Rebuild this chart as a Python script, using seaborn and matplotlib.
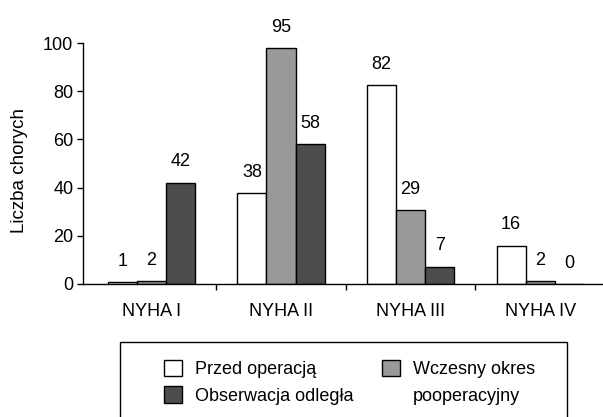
#-- NYHA class distribution before/after surgery --
import matplotlib
matplotlib.use('Agg')
import matplotlib.pyplot as plt
import matplotlib.patches as mpatches
import pandas as pd
import seaborn as sns

sns.set_style('white')
plt.rcParams.update({'font.family': ['Liberation Sans', 'DejaVu Sans'],
                     'font.size': 13,
                     'text.color': 'black',
                     'axes.labelcolor': 'black',
                     'xtick.color': 'black',
                     'ytick.color': 'black'})

#--data--
categories = ['NYHA I', 'NYHA II', 'NYHA III', 'NYHA IV']
series = ['Przed operacją', 'Wczesny okres pooperacyjny', 'Obserwacja odległa']
# bar heights as drawn in the figure
przed = [0.8, 37.7, 82.4, 15.9]
wczesny = [1.2, 97.9, 30.7, 1.2]
odlegla = [42.0, 58.0, 7.2, 0.0]
# printed labels
przed_lbl = [1, 38, 82, 16]
wczesny_lbl = [2, 95, 29, 2]
odlegla_lbl = [42, 58, 7, 0]
colors = {series[0]: '#ffffff', series[1]: '#999999', series[2]: '#4d4d4d'}

df = pd.DataFrame({
    'kat': categories * 3,
    'seria': [s for s in series for _ in categories],
    'liczba': przed + wczesny + odlegla,
})

fig = plt.figure(figsize=(6.03, 4.17), dpi=100)
ax = fig.add_axes([83/603, 1 - 284/417, 1 - 83/603, (284 - 43)/417])

sns.barplot(data=df, x='kat', y='liczba', hue='seria', order=categories,
            hue_order=series, palette=colors, width=0.672, gap=0,
            edgecolor='black', linewidth=1, saturation=1, legend=False, ax=ax)

for cont, lbls in zip(ax.containers, [przed_lbl, wczesny_lbl, odlegla_lbl]):
    ax.bar_label(cont, labels=[str(v) for v in lbls], padding=9, fontsize=13, clip_on=False)

ax.set_xlim(-0.528, 3.485)
ax.set_ylim(0, 100)
ax.set_yticks([0, 20, 40, 60, 80, 100])
ax.set_xlabel('')
ax.set_ylabel('Liczba chorych', fontsize=13.5)
ax.yaxis.set_label_coords(-0.106, 0.47)
ax.set_xticks([0.5, 1.5, 2.5], minor=True)
ax.tick_params(axis='x', which='major', length=0, pad=14, labelsize=13)
ax.tick_params(axis='x', which='minor', length=4, width=1, direction='out', bottom=True)
ax.tick_params(axis='y', length=4, width=1, direction='out', left=True, labelsize=13, pad=3)
for s in ['top', 'right']:
    ax.spines[s].set_visible(False)
for s in ['left', 'bottom']:
    ax.spines[s].set_color('black')
    ax.spines[s].set_linewidth(1)

#--legend--
handles = [mpatches.Patch(facecolor=colors[series[0]], edgecolor='black', linewidth=1),
           mpatches.Patch(facecolor=colors[series[2]], edgecolor='black', linewidth=1),
           mpatches.Patch(facecolor=colors[series[1]], edgecolor='black', linewidth=1),
           mpatches.Patch(facecolor='none', edgecolor='none')]
labels = ['Przed operacją', 'Obserwacja odległa', 'Wczesny okres', 'pooperacyjny']
fig.legend(handles, labels, ncol=2, loc='upper left', bbox_to_anchor=(155/603, 1 - 351/417),
           frameon=False, borderpad=0, handlelength=1.0, handleheight=1.0,
           handletextpad=0.7, labelspacing=0.45, columnspacing=1.6, fontsize=13)
fig.patches.append(mpatches.Rectangle((120/603, -0.1), 447/603, 0.1 + 1 - 342/417,
                                      transform=fig.transFigure, facecolor='none',
                                      edgecolor='black', linewidth=1))

plt.savefig('out.png', dpi=100)
